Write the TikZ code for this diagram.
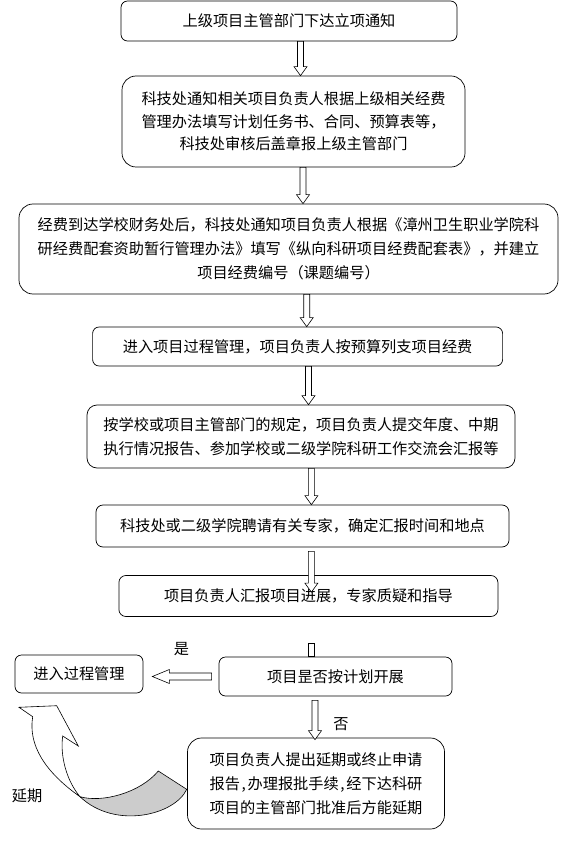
\documentclass[tikz,border=0pt]{standalone}
\usepackage{fontspec}
\setmainfont{Noto Sans CJK SC}
\usetikzlibrary{calc}
\newcommand\hc{\makebox[0.5em]{,}}
\begin{document}
\begin{tikzpicture}[x=1pt,y=-1pt,
  box/.style={draw=black, line width=0.7pt, fill=white, inner sep=0pt, align=center,
    font=\fontsize{15.2pt}{24pt}\selectfont},
  lbl/.style={inner sep=0pt, font=\fontsize{15.2pt}{18pt}\selectfont},
  hsw/.code={\def\hsw{#1}}, hhw/.code={\def\hhw{#1}}, hlen/.code={\def\hlen{#1}},
  hdown/.style={draw=black, fill=white, line width=0.6pt, hsw=3pt, hhw=6.5pt, hlen=9pt,
    to path={let \p1=(\tikztostart), \p2=(\tikztotarget) in
      (\x1-\hsw,\y1) -- (\x1-\hsw,\y2+\hlen) -- (\x1-\hhw,\y2+\hlen) -- (\x1,\y2)
      -- (\x1+\hhw,\y2+\hlen) -- (\x1+\hsw,\y2+\hlen) -- (\x1+\hsw,\y1) -- cycle}},
  hleft/.style={draw=black, fill=white, line width=0.6pt, hsw=3.5pt, hhw=7pt, hlen=17pt,
    to path={let \p1=(\tikztostart), \p2=(\tikztotarget) in
      (\x1,\y1+\hsw) -- (\x2+\hlen,\y1+\hsw) -- (\x2+\hlen,\y1+\hhw) -- (\x2,\y1)
      -- (\x2+\hlen,\y1-\hhw) -- (\x2+\hlen,\y1-\hsw) -- (\x1,\y1-\hsw) -- cycle}},
  hshaft/.style={draw=black, fill=white, line width=0.6pt, hsw=3pt,
    to path={let \p1=(\tikztostart), \p2=(\tikztotarget) in
      (\x1-\hsw,\y1) rectangle (\x1+\hsw,\y2)}},
  curvefront/.style={draw=black, fill=white, line width=0.6pt},
  curveback/.style={draw=black, fill=black!20, line width=0.6pt}
]
\useasboundingbox (0,0) rectangle (566,842);

\node[box, minimum width=336pt, minimum height=40pt, rounded corners=6.5pt] (b1) at (289,21)
  {上级项目主管部门下达立项通知};
\node[box, minimum width=343pt, minimum height=91pt, rounded corners=14pt,
  font=\fontsize{15.2pt}{22.5pt}\selectfont] (b2) at (293.5,121.5)
  {科技处通知相关项目负责人根据上级相关经费\\管理办法填写计划任务书、合同、预算表等，\\科技处审核后盖章报上级主管部门};
\node[box, minimum width=539pt, minimum height=90pt, rounded corners=14pt] (b3) at (288.5,249)
  {经费到达学校财务处后，科技处通知项目负责人根据《漳州卫生职业学院科\\研经费配套资助暂行管理办法》填写《纵向科研项目经费配套表》，并建立\\项目经费编号（课题编号）};
\node[box, minimum width=410pt, minimum height=39pt, rounded corners=6.5pt] (b4) at (297.6,346.5)
  {进入项目过程管理，项目负责人按预算列支项目经费};
\node[box, minimum width=428pt, minimum height=63pt, rounded corners=10pt] (b5) at (301,436.5)
  {按学校或项目主管部门的规定，项目负责人提交年度、中期\\执行情况报告、参加学校或二级学院科研工作交流会汇报等};
\node[box, minimum width=413pt, minimum height=42pt, rounded corners=7pt] (b6) at (302.5,526)
  {科技处或二级学院聘请有关专家，确定汇报时间和地点};
\node[box, minimum width=379pt, minimum height=41pt, rounded corners=7pt] (b7) at (308.4,596)
  {项目负责人汇报项目进展，专家质疑和指导};
\node[box, minimum width=233pt, minimum height=39pt, rounded corners=6.5pt] (b8) at (335.5,676.5)
  {项目昰否按计划开展};
\node[box, minimum width=128pt, minimum height=38pt, rounded corners=6.5pt] (b9) at (79,674)
  {进入过程管理};
\node[box, minimum width=257pt, minimum height=91pt, rounded corners=14pt] (b10) at (316,783.5)
  {项目负责人提出延期或终止申请\\报告\hc 办理报批手续\hc 经下达科研\\项目的主管部门批准后方能延期};

\node[lbl] (yes) at (181.5,649) {是};
\node[lbl] (no) at (341,724) {否};
\node[lbl] (delay) at (27,796) {延期};

\coordinate (stubtop) at (311,643);

\draw[hdown] ([xshift=11.5pt]b1.south) to ([xshift=11.5pt]b2.north);
\draw[hdown] ([xshift=9.5pt]b2.south) to ([xshift=9.5pt]b3.north);
\draw[hdown] ([xshift=18.2pt]b3.south) to ([xshift=18.2pt]b4.north);
\draw[hdown] ([xshift=10.9pt]b4.south) to ([xshift=10.9pt]b5.north);
\draw[hdown] ([xshift=10.4pt]b5.south) to ([xshift=10.4pt]b6.north);
\draw[hdown] ([xshift=8.9pt,yshift=-4pt]b6.south) to ([xshift=8.9pt,yshift=-17pt]b7.north);
\draw[hshaft] (stubtop) to ([xshift=-24.5pt]b8.north);
\draw[hdown] ([xshift=-20.5pt,yshift=-4pt]b8.south) to ([xshift=-20.5pt,yshift=-2pt]b10.north);
\draw[hleft] ([xshift=-7pt]b8.west) to ([xshift=9pt]b9.east);

% curved "delay" arrow
\draw[curveback] (80,796.7) .. controls (102,803) and (140,793) .. (158.3,771)
  -- (186.7,789.3) .. controls (175,815) and (115,830) .. (80,796.7) -- cycle;
\draw[curvefront] (19,707.3) -- (56.7,705.7) -- (78.3,746) -- (62.7,736)
  .. controls (60,755) and (66,780) .. (80,796.7)
  .. controls (45,772) and (28,745) .. (32.7,716.7) -- cycle;
\end{tikzpicture}
\end{document}
